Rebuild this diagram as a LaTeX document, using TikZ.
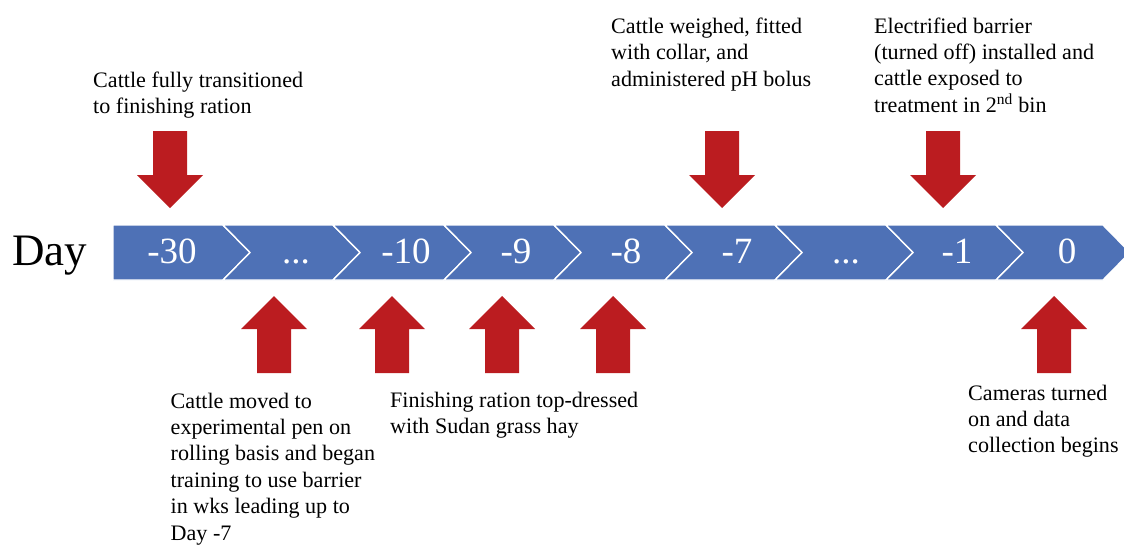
\documentclass[tikz,border=0pt]{standalone}
\usepackage{fontspec}
\setmainfont{Liberation Serif}
\definecolor{barblue}{RGB}{78,113,182}
\definecolor{arrred}{RGB}{187,28,32}
\begin{document}
\begin{tikzpicture}[x=1pt,y=-1pt,
  lbl/.style={anchor=base west,inner sep=0pt,align=left,font=\fontsize{22.1}{26.4}\selectfont},
  num/.style={anchor=base,inner sep=0pt,text=white,font=\fontsize{37}{40}\selectfont},
  seg/.style={fill=barblue,draw=white,line width=1.4pt,line join=miter},
  downarr/.pic={\fill[arrred] (-17,0) -- (17,0) -- (17,44) -- (33,44) -- (0,77) -- (-33,44) -- (-17,44) -- cycle;},
  uparr/.pic={\fill[arrred] (-17,0) -- (17,0) -- (17,-44) -- (33,-44) -- (0,-77) -- (-33,-44) -- (-17,-44) -- cycle;}]
\useasboundingbox (0,0) rectangle (1124,544);
\begin{scope}
\clip (0,0) rectangle (1124,544);
% chevron bar
\path[seg] (113,225) -- (223,225) -- (250,252.5) -- (223,280) -- (113,280) -- cycle;
\foreach \l/\r in {223/333,333/444,444/554,554/665,665/775,775/886,886/996,996/1103}{
  \path[seg] (\l,225) -- (\r,225) -- (\r+27,252.5) -- (\r,280) -- (\l,280) -- (\l+27,252.5) -- cycle;
}
\end{scope}
% day labels
\node[anchor=base west,inner sep=0pt,font=\fontsize{45}{48}\selectfont] (day) at (12,265) {Day};
\node[num] (d30) at (172,263) {-30};
\node[num] (dA) at (296,263) {...};
\node[num] (d10) at (406,263) {-10};
\node[num] (d9) at (516,263) {-9};
\node[num] (d8) at (626,263) {-8};
\node[num] (d7) at (737,263) {-7};
\node[num] (dB) at (846,263) {...};
\node[num] (d1) at (957,263) {-1};
\node[num] (d0) at (1067,263) {0};
% arrows
\pic (a1) at (170,131) {downarr};
\pic (a2) at (722,131) {downarr};
\pic (a3) at (943,131) {downarr};
\pic (b1) at (274,373) {uparr};
\pic (b2) at (392,373) {uparr};
\pic (b3) at (502,373) {uparr};
\pic (b4) at (613,373) {uparr};
\pic (b5) at (1054,373) {uparr};
% texts (anchored at the baseline of the last line)
\node[lbl] (t1) at (93,113.4) {Cattle fully transitioned\\to finishing ration};
\node[lbl] (t2) at (611,86) {Cattle weighed, fitted\\with collar, and\\administered pH bolus};
\node[lbl] (t3) at (874,112.2) {Electrified barrier\\(turned off) installed and\\cattle exposed to\\treatment in 2\textsuperscript{nd} bin};
\node[lbl] (t4) at (170.5,540) {Cattle moved to\\experimental pen on\\rolling basis and began\\training to use barrier\\in wks leading up to\\Day -7};
\node[lbl] (t5) at (390,433.4) {Finishing ration top-dressed\\with Sudan grass hay};
\node[lbl] (t6) at (968,452.8) {Cameras turned\\on and data\\collection begins};
\end{tikzpicture}
\end{document}
